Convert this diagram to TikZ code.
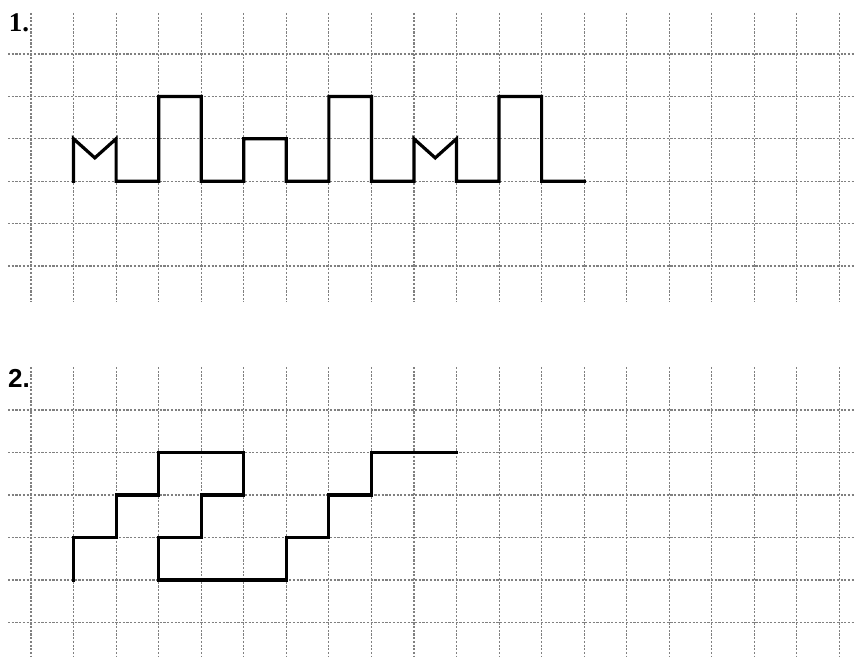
\documentclass[tikz,border=0pt]{standalone}
\usepackage{fontspec}
\newfontfamily\serifb{Liberation Serif}
\newfontfamily\sansb{Liberation Sans}
\begin{document}
\begin{tikzpicture}[x=1pt,y=-1pt,
  gridline/.style={black!50, line width=1.1pt, dash pattern=on 2.2pt off 1.5pt},
  figline/.style={black, line width=3.2pt, line join=miter, line cap=rect},
  numlabel/.style={inner sep=0pt}]
\useasboundingbox[fill=white] (0,0) rectangle (854,661);
\node[numlabel, font=\fontsize{27}{27}\selectfont\bfseries\serifb] (lab1) at (19,23) {1.};
\node[numlabel, font=\fontsize{26}{26}\selectfont\bfseries\sansb] (lab2) at (19,378) {2.};
% top grid and figure
\begin{scope}[xshift=31pt, yshift=-54pt, x=42.55pt, y=-42.4pt]
  \foreach \i in {0,...,19} \draw[gridline] (\i,-0.97) -- (\i,5.85);
  \foreach \j in {0,...,5} \draw[gridline] (-0.54,\j) -- (19.34,\j);
  \draw[figline] (1,3) -- (1,2) -- (1.5,2.45) -- (2,2) -- (2,3) -- (3,3) -- (3,1) -- (4,1) -- (4,3)
    -- (5,3) -- (5,2) -- (6,2) -- (6,3) -- (7,3) -- (7,1) -- (8,1) -- (8,3) -- (9,3)
    -- (9,2) -- (9.5,2.45) -- (10,2) -- (10,3) -- (11,3) -- (11,1) -- (12,1) -- (12,3) -- (13,3);
\end{scope}
% bottom grid and figure
\begin{scope}[xshift=31pt, yshift=-410pt, x=42.55pt, y=-42.5pt]
  \foreach \i in {0,...,19} \draw[gridline] (\i,-1.01) -- (\i,5.82);
  \foreach \j in {0,...,5} \draw[gridline] (-0.54,\j) -- (19.34,\j);
  \draw[figline] (1,4) -- (1,3) -- (2,3) -- (2,2) -- (3,2) -- (3,1) -- (5,1) -- (5,2) -- (4,2)
    -- (4,3) -- (3,3) -- (3,4) -- (6,4) -- (6,3) -- (7,3) -- (7,2) -- (8,2) -- (8,1) -- (10,1);
\end{scope}
\end{tikzpicture}
\end{document}
